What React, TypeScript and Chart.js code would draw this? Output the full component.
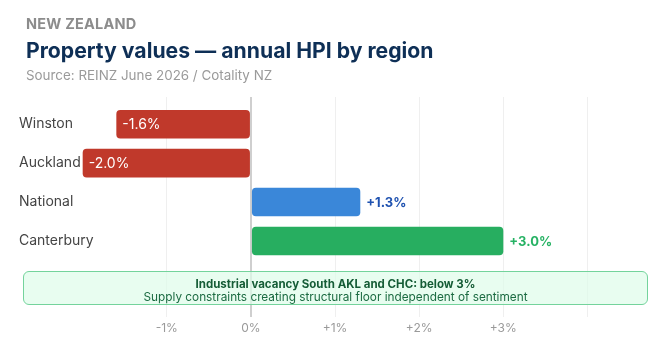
import { useEffect, useRef } from "react";
import { Chart, registerables } from "chart.js";

Chart.register(...registerables);

const regions = ["Winston", "Auckland", "National", "Canterbury"];
const hpiChange = [-1.6, -2.0, 1.3, 3.0];
const barColors = ["#c0392b", "#c0392b", "#3a87d9", "#27ae60"];
const valueLabelColors = ["#ffffff", "#ffffff", "#1f52b0", "#27b264"];
const xTickValues = [-1, 0, 1, 2, 3, 4];
const xTickLabels = ["-1%", "0%", "+1%", "+2%", "+3%", ""];

const FONT = "Inter, 'Noto Sans', sans-serif";

const fmtPct = (v: number) => (v > 0 ? "+" : "") + v.toFixed(1) + "%";

// Value labels: inside the bar for declines, just past the bar end for gains
const valueLabels = {
  id: "valueLabels",
  afterDatasetsDraw(chart: any) {
    const ctx = chart.ctx as CanvasRenderingContext2D;
    const meta = chart.getDatasetMeta(0);
    meta.data.forEach((bar: any, i: number) => {
      const v = hpiChange[i];
      ctx.save();
      ctx.textBaseline = "middle";
      ctx.textAlign = "left";
      ctx.font = v < 0 ? `400 14px ${FONT}` : `700 13px ${FONT}`;
      ctx.fillStyle = valueLabelColors[i];
      ctx.fillText(fmtPct(v), bar.x + 6, bar.y + 1);
      ctx.restore();
    });
  },
};

// Region names, left-aligned at the axis' left edge and free to run past it
const regionLabels = {
  id: "regionLabels",
  afterDraw(chart: any) {
    const ctx = chart.ctx as CanvasRenderingContext2D;
    const yScale = chart.scales.y;
    ctx.save();
    ctx.font = `400 14px ${FONT}`;
    ctx.fillStyle = "#444444";
    ctx.textAlign = "left";
    ctx.textBaseline = "middle";
    regions.forEach((name, i) => {
      ctx.fillText(name, yScale.left, yScale.getPixelForValue(i));
    });
    ctx.restore();
  },
};

function HpiChart() {
  const canvasRef = useRef<HTMLCanvasElement | null>(null);

  useEffect(() => {
    if (!canvasRef.current) return;
    const chart = new Chart(canvasRef.current, {
      type: "bar",
      data: {
        datasets: [
          {
            data: regions.map((_, i) => ({ x: hpiChange[i], y: i })),
            backgroundColor: barColors,
            borderWidth: 0,
            borderRadius: 4,
            borderSkipped: false,
            barPercentage: 0.92,
            categoryPercentage: 0.8,
          },
        ],
      },
      options: {
        indexAxis: "y",
        animation: false,
        responsive: true,
        maintainAspectRatio: false,
        layout: { padding: { left: 11, right: 16, top: 89, bottom: 12.6 } },
        plugins: {
          legend: { display: false },
          tooltip: { enabled: false },
        },
        scales: {
          x: {
            type: "linear",
            min: -2.02,
            max: 4.72,
            afterBuildTicks: (scale: any) => {
              scale.ticks = xTickValues.map((value) => ({ value }));
            },
            ticks: {
              padding: 4,
              color: "#9a9a9a",
              font: { family: FONT, size: 12 },
              callback: (_v: any, i: number) => xTickLabels[i],
            },
            grid: {
              drawTicks: false,
              color: (c: any) => (c.tick && c.tick.value === 0 ? "#cfcfcf" : "#efefef"),
              lineWidth: (c: any) => (c.tick && c.tick.value === 0 ? 2 : 1),
            },
            border: { display: false },
          },
          y: {
            type: "linear",
            reverse: true,
            offset: false,
            min: -0.7,
            max: 4.955,
            afterBuildTicks: (scale: any) => {
              scale.ticks = regions.map((_, i) => ({ value: i }));
            },
            afterFit: (scale: any) => {
              scale.width = 62;
            },
            ticks: { display: false },
            grid: { display: false, offset: false },
            border: { display: false },
          },
        },
      },
      plugins: [valueLabels, regionLabels],
    });
    return () => chart.destroy();
  }, []);

  return (
    <div style={{ position: "absolute", inset: 0 }}>
      <canvas ref={canvasRef} />
    </div>
  );
}

export default function App() {
  return (
    <div
      style={{
        position: "relative",
        width: 656,
        height: 344,
        fontFamily: FONT,
        background: "#ffffff",
      }}
    >
      <HpiChart />
      <div
        style={{
          position: "absolute",
          left: 18,
          top: 7,
          fontSize: 14.5,
          lineHeight: "18px",
          fontWeight: 700,
          color: "#8c8c8c",
          letterSpacing: 0.2,
        }}
      >
        NEW ZEALAND
      </div>
      <div
        style={{
          position: "absolute",
          left: 18,
          top: 28,
          fontSize: 21.2,
          lineHeight: "28px",
          fontWeight: 700,
          color: "#0e2f56",
        }}
      >
        Property values — annual HPI by region
      </div>
      <div
        style={{
          position: "absolute",
          left: 18,
          top: 58,
          fontSize: 13.4,
          lineHeight: "18px",
          color: "#9a9a9a",
        }}
      >
        Source: REINZ June 2026 / Cotality NZ
      </div>
      <div
        style={{
          position: "absolute",
          left: 15,
          top: 263,
          width: 625,
          height: 34,
          boxSizing: "border-box",
          border: "1.5px solid #74d39c",
          borderRadius: 6,
          background: "rgba(222, 252, 233, 0.7)",
          textAlign: "center",
          paddingTop: 5.5,
        }}
      >
        <div style={{ fontSize: 11.5, lineHeight: "13px", fontWeight: 700, color: "#155c36" }}>
          Industrial vacancy South AKL and CHC: below 3%
        </div>
        <div style={{ fontSize: 11.8, lineHeight: "13px", color: "#1c6b42" }}>
          Supply constraints creating structural floor independent of sentiment
        </div>
      </div>
    </div>
  );
}
